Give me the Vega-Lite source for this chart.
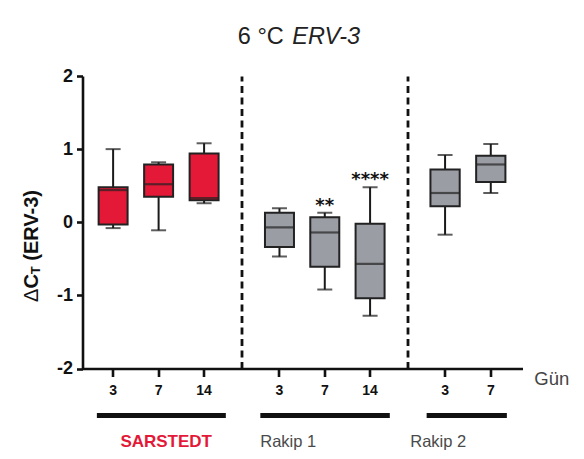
{
  "$schema": "https://vega.github.io/schema/vega-lite/v6.json",
  "background": "#ffffff",
  "padding": {"left": 21.5, "top": 25, "right": 8, "bottom": 8},
  "bounds": "flush",
  "spacing": 0,
  "config": {
    "font": "Liberation Sans",
    "view": {"stroke": null},
    "axis": {
      "grid": false,
      "domainColor": "#111111",
      "domainWidth": 2.6,
      "tickColor": "#111111",
      "tickWidth": 2.6,
      "labelColor": "#111111",
      "labelFont": "Liberation Sans",
      "labelFontWeight": "bold"
    },
    "axisX": {"tickSize": 8, "labelFontSize": 14, "labelPadding": 7, "labelAngle": 0},
    "axisY": {"tickSize": 6, "labelFontSize": 18, "labelPadding": 4}
  },
  "datasets": {
    "sarstedt": [
      {"group": "SARSTEDT", "day": 3, "min": -0.08, "q1": -0.03, "median": 0.44, "q3": 0.48, "max": 1.0, "sig": ""},
      {"group": "SARSTEDT", "day": 7, "min": -0.11, "q1": 0.35, "median": 0.52, "q3": 0.79, "max": 0.82, "sig": ""},
      {"group": "SARSTEDT", "day": 14, "min": 0.26, "q1": 0.3, "median": 0.33, "q3": 0.94, "max": 1.08, "sig": ""}
    ],
    "rakip1": [
      {"group": "Rakip 1", "day": 3, "min": -0.47, "q1": -0.34, "median": -0.07, "q3": 0.13, "max": 0.19, "sig": ""},
      {"group": "Rakip 1", "day": 7, "min": -0.92, "q1": -0.61, "median": -0.14, "q3": 0.07, "max": 0.13, "sig": "**"},
      {"group": "Rakip 1", "day": 14, "min": -1.28, "q1": -1.04, "median": -0.57, "q3": -0.02, "max": 0.48, "sig": "****"}
    ],
    "rakip2": [
      {"group": "Rakip 2", "day": 3, "min": -0.17, "q1": 0.22, "median": 0.4, "q3": 0.72, "max": 0.92, "sig": ""},
      {"group": "Rakip 2", "day": 7, "min": 0.4, "q1": 0.55, "median": 0.79, "q3": 0.91, "max": 1.07, "sig": ""}
    ]
  },
  "resolve": {"scale": {"x": "independent", "y": "independent"}},
  "hconcat": [
    {
      "width": 159,
      "height": 292.5,
      "data": {"name": "sarstedt"},
      "encoding": {
        "x": {"field": "day", "type": "ordinal", "title": null,
              "scale": {"domain": [3, 7, 14], "paddingInner": 0.363, "paddingOuter": 0.429, "align": 0.413}}
      },
      "layer": [
        {"mark": {"type": "rule", "color": "#1a1a1a", "strokeWidth": 2},
         "encoding": {
           "y": {"field": "min", "type": "quantitative", "title": null, "scale": {"domain": [-2, 2], "nice": false},
                 "axis": {"values": [-2, -1, 0, 1, 2], "labelExpr": "'' + datum.value"}},
           "y2": {"field": "max"}}},
        {"mark": {"type": "bar", "fill": "#e31937", "stroke": "#222222", "strokeWidth": 2},
         "encoding": {"y": {"field": "q1", "type": "quantitative", "title": null, "scale": {"domain": [-2, 2], "nice": false}}, "y2": {"field": "q3"}}},
        {"mark": {"type": "tick", "color": "#222222", "thickness": 2.2, "size": 29},
         "encoding": {"y": {"field": "median", "type": "quantitative", "title": null, "scale": {"domain": [-2, 2], "nice": false}}}},
        {"mark": {"type": "tick", "color": "#1a1a1a", "thickness": 2, "size": 15},
         "encoding": {"y": {"field": "min", "type": "quantitative", "title": null, "scale": {"domain": [-2, 2], "nice": false}}}},
        {"mark": {"type": "tick", "color": "#1a1a1a", "thickness": 2, "size": 15},
         "encoding": {"y": {"field": "max", "type": "quantitative", "title": null, "scale": {"domain": [-2, 2], "nice": false}}}},
        {
          "transform": [{"aggregate": [{"op": "count", "as": "n"}], "groupby": ["group"]}],
          "layer": [
            {"mark": {"type": "rule", "color": "#111111", "strokeWidth": 5},
             "encoding": {
               "x": {"datum": 3, "type": "ordinal", "bandPosition": -0.06},
               "x2": {"datum": 14, "bandPosition": 1.25},
               "y": {"datum": -2.643, "type": "quantitative", "title": null, "scale": {"domain": [-2, 2], "nice": false}}}},
            {"mark": {"type": "text", "align": "center", "baseline": "middle", "dx": 7.6, "fontSize": 17, "fontWeight": "bold", "color": "#e31937"},
             "encoding": {
               "x": {"datum": 7, "type": "ordinal"},
               "y": {"datum": -3.005, "type": "quantitative", "title": null, "scale": {"domain": [-2, 2], "nice": false}},
               "text": {"field": "group"}}}
          ]
        },
        {"data": {"values": [{"label": "Δ"}]},
         "mark": {"type": "text", "angle": 270, "align": "left", "baseline": "middle", "dx": 0, "dy": -81.3, "fontSize": 20, "color": "#111111"},
         "encoding": {"x": {"datum": 3, "type": "ordinal"},
                      "y": {"datum": -1.09, "type": "quantitative", "title": null, "scale": {"domain": [-2, 2], "nice": false}},
                      "text": {"field": "label"}}},
        {"data": {"values": [{"label": "C"}]},
         "mark": {"type": "text", "angle": 270, "align": "left", "baseline": "middle", "dx": 13.4, "dy": -81.3, "fontSize": 20, "fontWeight": "bold", "color": "#111111"},
         "encoding": {"x": {"datum": 3, "type": "ordinal"},
                      "y": {"datum": -1.09, "type": "quantitative", "title": null, "scale": {"domain": [-2, 2], "nice": false}},
                      "text": {"field": "label"}}},
        {"data": {"values": [{"label": "T"}]},
         "mark": {"type": "text", "angle": 270, "align": "left", "baseline": "middle", "dx": 27.8, "dy": -77.1, "fontSize": 13, "fontWeight": "bold", "color": "#111111"},
         "encoding": {"x": {"datum": 3, "type": "ordinal"},
                      "y": {"datum": -1.09, "type": "quantitative", "title": null, "scale": {"domain": [-2, 2], "nice": false}},
                      "text": {"field": "label"}}},
        {"data": {"values": [{"label": "(ERV-3)"}]},
         "mark": {"type": "text", "angle": 270, "align": "left", "baseline": "middle", "dx": 41.2, "dy": -81.3, "fontSize": 20, "fontWeight": "bold", "color": "#111111"},
         "encoding": {"x": {"datum": 3, "type": "ordinal"},
                      "y": {"datum": -1.09, "type": "quantitative", "title": null, "scale": {"domain": [-2, 2], "nice": false}},
                      "text": {"field": "label"}}}
      ]
    },
    {
      "width": 166,
      "height": 292.5,
      "data": {"name": "rakip1"},
      "encoding": {
        "x": {"field": "day", "type": "ordinal", "title": null,
              "scale": {"domain": [3, 7, 14], "paddingInner": 0.36, "paddingOuter": 0.512, "align": 0.506}}
      },
      "layer": [
        {"mark": {"type": "rule", "color": "#1a1a1a", "strokeWidth": 2},
         "encoding": {
           "y": {"field": "min", "type": "quantitative", "title": null, "scale": {"domain": [-2, 2], "nice": false},
                 "axis": {"ticks": false, "labels": false, "domainDash": [7, 4.5], "domainWidth": 2.8}},
           "y2": {"field": "max"}}},
        {"mark": {"type": "bar", "fill": "#9b9da5", "stroke": "#222222", "strokeWidth": 2},
         "encoding": {"y": {"field": "q1", "type": "quantitative", "title": null, "scale": {"domain": [-2, 2], "nice": false}}, "y2": {"field": "q3"}}},
        {"mark": {"type": "tick", "color": "#222222", "thickness": 2.2, "size": 29},
         "encoding": {"y": {"field": "median", "type": "quantitative", "title": null, "scale": {"domain": [-2, 2], "nice": false}}}},
        {"mark": {"type": "tick", "color": "#1a1a1a", "thickness": 2, "size": 15},
         "encoding": {"y": {"field": "min", "type": "quantitative", "title": null, "scale": {"domain": [-2, 2], "nice": false}}}},
        {"mark": {"type": "tick", "color": "#1a1a1a", "thickness": 2, "size": 15},
         "encoding": {"y": {"field": "max", "type": "quantitative", "title": null, "scale": {"domain": [-2, 2], "nice": false}}}},
        {"mark": {"type": "text", "font": "DejaVu Sans", "fontSize": 18, "fontWeight": "bold", "baseline": "alphabetic", "align": "center", "dy": -2, "color": "#111111"},
         "encoding": {"y": {"field": "max", "type": "quantitative", "title": null, "scale": {"domain": [-2, 2], "nice": false}},
                      "text": {"field": "sig"}}},
        {
          "transform": [{"aggregate": [{"op": "count", "as": "n"}], "groupby": ["group"]}],
          "layer": [
            {"mark": {"type": "rule", "color": "#111111", "strokeWidth": 5},
             "encoding": {
               "x": {"datum": 3, "type": "ordinal", "bandPosition": -0.16},
               "x2": {"datum": 14, "bandPosition": 1.18},
               "y": {"datum": -2.643, "type": "quantitative", "title": null, "scale": {"domain": [-2, 2], "nice": false}}}},
            {"mark": {"type": "text", "align": "left", "baseline": "middle", "dx": -19.2, "fontSize": 16.5, "color": "#4a4a4a"},
             "encoding": {
               "x": {"datum": 3, "type": "ordinal"},
               "y": {"datum": -3.005, "type": "quantitative", "title": null, "scale": {"domain": [-2, 2], "nice": false}},
               "text": {"field": "group"}}}
          ]
        },
        {"data": {"values": [{"label": "6 °C"}]},
         "mark": {"type": "text", "align": "right", "baseline": "middle", "dx": 4.3, "fontSize": 23.5, "color": "#222222"},
         "encoding": {"x": {"datum": 3, "type": "ordinal"},
                      "y": {"datum": 2.53, "type": "quantitative", "title": null, "scale": {"domain": [-2, 2], "nice": false}},
                      "text": {"field": "label"}}},
        {"data": {"values": [{"label": "ERV-3"}]},
         "mark": {"type": "text", "align": "left", "baseline": "middle", "dx": 12.8, "fontSize": 23.5, "fontStyle": "italic", "color": "#222222"},
         "encoding": {"x": {"datum": 3, "type": "ordinal"},
                      "y": {"datum": 2.53, "type": "quantitative", "title": null, "scale": {"domain": [-2, 2], "nice": false}},
                      "text": {"field": "label"}}}
      ]
    },
    {
      "width": 115,
      "height": 292.5,
      "data": {"name": "rakip2"},
      "encoding": {
        "x": {"field": "day", "type": "ordinal", "title": "Gün",
              "scale": {"domain": [3, 7], "paddingInner": 0.36, "paddingOuter": 0.438, "align": 0.573},
              "axis": {"titleX": 126.3, "titleY": 10, "titleAlign": "left", "titleBaseline": "middle", "titleAngle": 0,
                       "titleFontSize": 18.5, "titleFontWeight": "normal", "titleColor": "#444444", "titleFont": "Liberation Sans"}}
      },
      "layer": [
        {"mark": {"type": "rule", "color": "#1a1a1a", "strokeWidth": 2},
         "encoding": {
           "y": {"field": "min", "type": "quantitative", "title": null, "scale": {"domain": [-2, 2], "nice": false},
                 "axis": {"ticks": false, "labels": false, "domainDash": [7, 4.5], "domainWidth": 2.8}},
           "y2": {"field": "max"}}},
        {"mark": {"type": "bar", "fill": "#9b9da5", "stroke": "#222222", "strokeWidth": 2},
         "encoding": {"y": {"field": "q1", "type": "quantitative", "title": null, "scale": {"domain": [-2, 2], "nice": false}}, "y2": {"field": "q3"}}},
        {"mark": {"type": "tick", "color": "#222222", "thickness": 2.2, "size": 29},
         "encoding": {"y": {"field": "median", "type": "quantitative", "title": null, "scale": {"domain": [-2, 2], "nice": false}}}},
        {"mark": {"type": "tick", "color": "#1a1a1a", "thickness": 2, "size": 15},
         "encoding": {"y": {"field": "min", "type": "quantitative", "title": null, "scale": {"domain": [-2, 2], "nice": false}}}},
        {"mark": {"type": "tick", "color": "#1a1a1a", "thickness": 2, "size": 15},
         "encoding": {"y": {"field": "max", "type": "quantitative", "title": null, "scale": {"domain": [-2, 2], "nice": false}}}},
        {
          "transform": [{"aggregate": [{"op": "count", "as": "n"}], "groupby": ["group"]}],
          "layer": [
            {"mark": {"type": "rule", "color": "#111111", "strokeWidth": 5},
             "encoding": {
               "x": {"datum": 3, "type": "ordinal", "bandPosition": -0.13},
               "x2": {"datum": 7, "bandPosition": 1.05},
               "y": {"datum": -2.643, "type": "quantitative", "title": null, "scale": {"domain": [-2, 2], "nice": false}}}},
            {"mark": {"type": "text", "align": "left", "baseline": "middle", "dx": -34.8, "fontSize": 16.5, "color": "#4a4a4a"},
             "encoding": {
               "x": {"datum": 3, "type": "ordinal"},
               "y": {"datum": -3.005, "type": "quantitative", "title": null, "scale": {"domain": [-2, 2], "nice": false}},
               "text": {"field": "group"}}}
          ]
        }
      ]
    }
  ]
}
